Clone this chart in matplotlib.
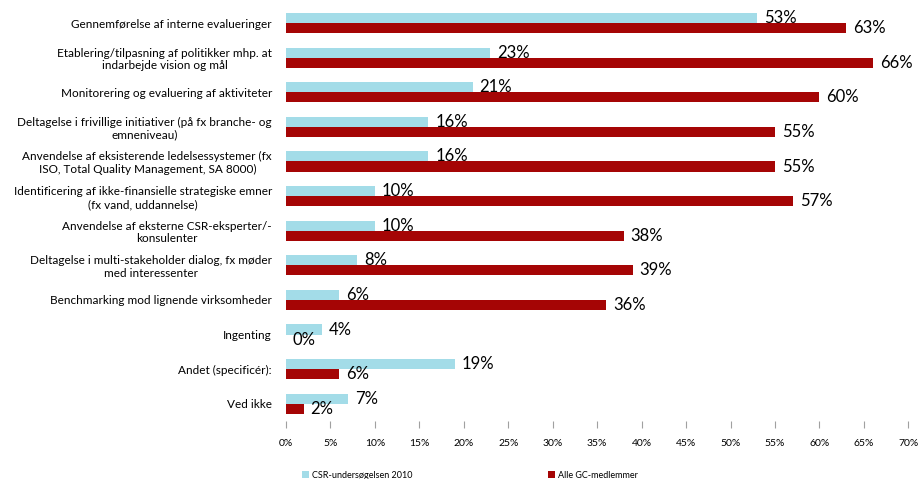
import numpy as np
import matplotlib
matplotlib.use('Agg')
import matplotlib.pyplot as plt

# data
categories = [
    "Gennemførelse af interne evalueringer",
    "Etablering/tilpasning af politikker mhp. at\nindarbejde vision og mål",
    "Monitorering og evaluering af aktiviteter",
    "Deltagelse i frivillige initiativer (på fx branche- og\nemneniveau)",
    "Anvendelse af eksisterende ledelsessystemer (fx\nISO, Total Quality Management, SA 8000)",
    "Identificering af ikke-finansielle strategiske emner\n(fx vand, uddannelse)",
    "Anvendelse af eksterne CSR-eksperter/-\nkonsulenter",
    "Deltagelse i multi-stakeholder dialog, fx møder\nmed interessenter",
    "Benchmarking mod lignende virksomheder",
    "Ingenting",
    "Andet (specificér):",
    "Ved ikke",
]
csr_2010 = [53, 23, 21, 16, 16, 10, 10, 8, 6, 4, 19, 7]
alle_gc = [63, 66, 60, 55, 55, 57, 38, 39, 36, 0, 6, 2]
series_names = ["CSR-undersøgelsen 2010", "Alle GC-medlemmer"]
xticks = np.arange(0, 71, 5)

plt.rcParams['font.family'] = ['Lato', 'DejaVu Sans']

fig = plt.figure(figsize=(9.18, 4.79), dpi=100)
ax = fig.add_axes([0.3115, 0.121, 0.678, 0.867])

y = np.arange(len(categories))
h = 0.29
b1 = ax.barh(y - h / 2, csr_2010, height=h, color='#A3DCE8', label=series_names[0])
b2 = ax.barh(y + h / 2, alle_gc, height=h, color='#A50505', label=series_names[1])

ax.bar_label(b1, labels=[f"{v}%" for v in csr_2010], padding=5, fontsize=12)
ax.bar_label(b2, labels=[f"{v}%" for v in alle_gc], padding=5, fontsize=12)

ax.set_ylim(len(categories) - 0.5, -0.5)
ax.set_xlim(0, 70)
ax.set_yticks(y)
ax.set_yticklabels(categories, fontsize=8.5, multialignment='center')
ax.tick_params(axis='y', length=0, pad=10)
ax.set_xticks(xticks)
ax.set_xticklabels([f"{t}%" for t in xticks], fontsize=7.5)
ax.tick_params(axis='x', length=5, color='#A0A0A0', pad=8)
for s in ax.spines.values():
    s.set_visible(False)

fig.legend(handles=[b1, b2], loc='center', bbox_to_anchor=(0.512, 0.008), ncol=2,
           frameon=False, fontsize=6.5, handlelength=0.8, handleheight=0.8,
           handletextpad=0.35, columnspacing=15)

fig.savefig('out.png', dpi=100)
